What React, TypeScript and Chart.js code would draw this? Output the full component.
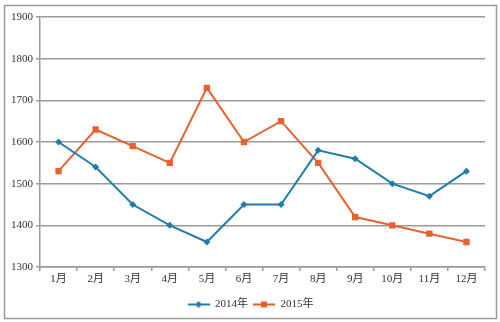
import React, { useEffect, useRef } from 'react';
import { Chart, registerables } from 'chart.js';

Chart.register(...registerables);

const months = ['1月', '2月', '3月', '4月', '5月', '6月', '7月', '8月', '9月', '10月', '11月', '12月'];
const series2014 = [1600, 1540, 1450, 1400, 1360, 1450, 1450, 1580, 1560, 1500, 1470, 1530];
const series2015 = [1530, 1630, 1590, 1550, 1730, 1600, 1650, 1550, 1420, 1400, 1380, 1360];
const seriesNames = ['2014年', '2015年'];
const yMin = 1300;
const yMax = 1900;
const yStep = 100;

const BLUE = '#1f7dab';
const ORANGE = '#e8622f';
const GRID = '#9a9a9a';
const TEXT = '#333333';
const FONT = "'Liberation Serif', 'Noto Sans CJK SC', serif";

function legendIcon(color: string, kind: 'diamond' | 'square') {
  const c = document.createElement('canvas');
  c.width = 22;
  c.height = 10;
  const ctx = c.getContext('2d')!;
  ctx.strokeStyle = color;
  ctx.lineWidth = 2;
  ctx.beginPath();
  ctx.moveTo(0, 5);
  ctx.lineTo(22, 5);
  ctx.stroke();
  ctx.fillStyle = color;
  if (kind === 'diamond') {
    ctx.beginPath();
    ctx.moveTo(11, 1.5);
    ctx.lineTo(14.5, 5);
    ctx.lineTo(11, 8.5);
    ctx.lineTo(7.5, 5);
    ctx.closePath();
    ctx.fill();
  } else {
    ctx.fillRect(8, 2, 6, 6);
  }
  return c;
}

const frame = {
  id: 'frame',
  beforeDraw(chart: any) {
    const ctx = chart.ctx;
    ctx.save();
    ctx.fillStyle = '#ffffff';
    ctx.fillRect(0, 0, chart.width, chart.height);
    ctx.strokeStyle = '#9a9a9a';
    ctx.lineWidth = 1.5;
    ctx.strokeRect(4.5, 5.5, 492, 313);
    ctx.restore();
  },
  afterLayout(chart: any) {
    const lg = chart.legend;
    if (lg) {
      lg.left += 8;
      lg.right += 8;
    }
  },
};

export default function App() {
  const ref = useRef<HTMLCanvasElement>(null);

  useEffect(() => {
    const icons = [legendIcon(BLUE, 'diamond'), legendIcon(ORANGE, 'square')];
    const chart = new Chart(ref.current!, {
      type: 'line',
      data: {
        labels: months,
        datasets: [
          {
            label: seriesNames[0],
            data: series2014,
            borderColor: BLUE,
            backgroundColor: BLUE,
            borderWidth: 2,
            pointStyle: 'rectRot',
            pointRadius: 3.5,
            pointBorderWidth: 0,
            tension: 0,
          },
          {
            label: seriesNames[1],
            data: series2015,
            borderColor: ORANGE,
            backgroundColor: ORANGE,
            borderWidth: 2,
            pointStyle: 'rect',
            pointRadius: 4.5,
            pointBorderWidth: 0,
            tension: 0,
          },
        ],
      },
      options: {
        responsive: false,
        animation: false,
        layout: { padding: { top: 17, right: 15, bottom: 2, left: 0 } },
        plugins: {
          tooltip: { enabled: false },
          legend: {
            position: 'bottom',
            labels: {
              usePointStyle: true,
              pointStyleWidth: 22,
              padding: 5,
              color: TEXT,
              font: { family: FONT, size: 11 },
              generateLabels: (chart: any) =>
                chart.data.datasets.map((ds: any, i: number) => ({
                  text: ds.label,
                  fillStyle: ds.borderColor,
                  strokeStyle: ds.borderColor,
                  lineWidth: 0,
                  pointStyle: icons[i],
                  hidden: false,
                  datasetIndex: i,
                  fontColor: TEXT,
                })),
            },
          },
        },
        scales: {
          x: {
            offset: true,
            grid: {
              offset: true,
              drawOnChartArea: false,
              drawTicks: true,
              tickLength: 4,
              color: GRID,
              lineWidth: 1.5,
            },
            border: { color: GRID, width: 1.5 },
            ticks: {
              color: TEXT,
              padding: 2,
              maxRotation: 0,
              autoSkip: false,
              font: { family: FONT, size: 11 },
            },
            afterFit: (s: any) => {
              s.height = 27;
            },
          },
          y: {
            min: yMin,
            max: yMax,
            grid: {
              color: GRID,
              lineWidth: 1.5,
              tickLength: 4,
            },
            border: { color: GRID, width: 1.5 },
            ticks: {
              stepSize: yStep,
              color: TEXT,
              padding: 3,
              font: { family: FONT, size: 11 },
              callback: (v: any) => String(v),
            },
            afterFit: (s: any) => {
              s.width = 40;
            },
          },
        },
      },
      plugins: [frame],
    } as any);
    return () => chart.destroy();
  }, []);

  return (
    <div style={{ position: 'fixed', left: 0, top: 0, width: 500, height: 322 }}>
      <canvas ref={ref} width={500} height={322} style={{ width: 500, height: 322, display: 'block' }} />
    </div>
  );
}
